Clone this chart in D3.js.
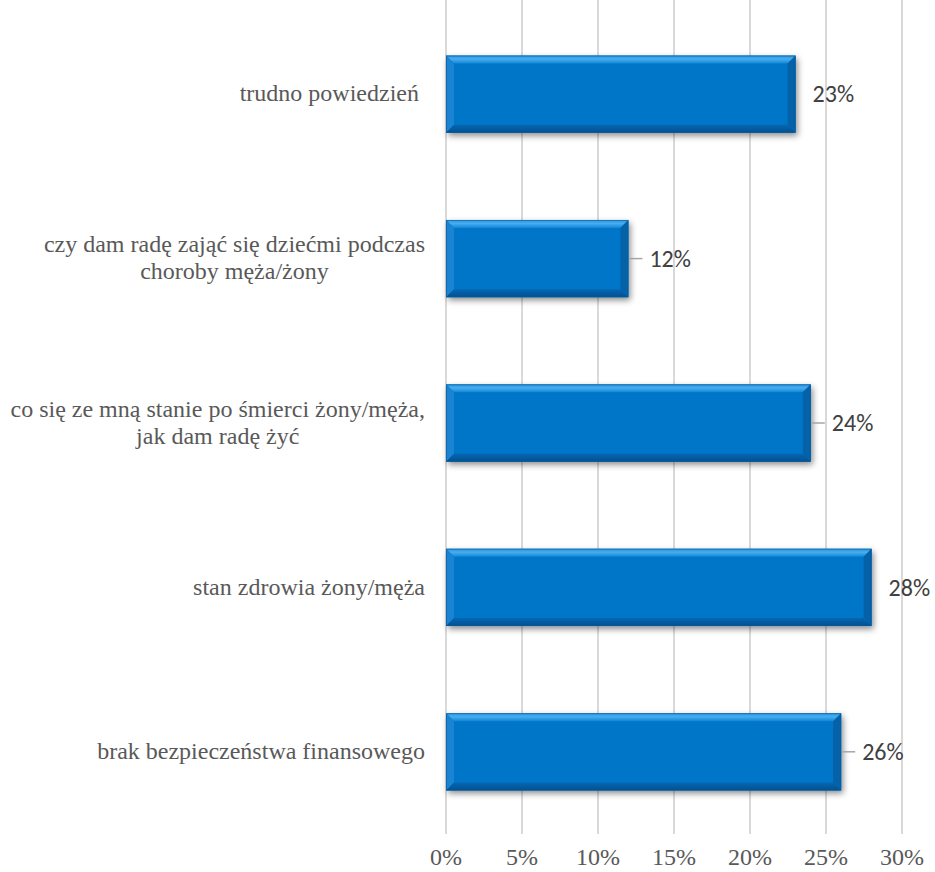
<!DOCTYPE html>
<html>
<head>
<meta charset="utf-8">
<script src="https://cdn.jsdelivr.net/npm/d3@7"></script>
<style>
  html, body { margin: 0; padding: 0; background: #ffffff; }
  svg { display: block; }
</style>
</head>
<body>
<svg id="chart" width="935" height="872"></svg>
<script>
// Categories, top to bottom, each as its wrapped label lines
const categories = [
  ["trudno powiedzień "],
  ["czy dam radę zająć się dziećmi podczas", "choroby męża/żony"],
  ["co się ze mną stanie po śmierci żony/męża,", "jak dam radę żyć"],
  ["stan zdrowia żony/męża"],
  ["brak bezpieczeństwa finansowego"]
];
// Share of answers (%)
const values = [23, 12, 24, 28, 26];
// Whether the data label is joined to its bar by a leader line
const leaderShown = [false, true, true, false, true];
// Axis ticks
const tickValues = [0, 5, 10, 15, 20, 25, 30];
const tickLabels = ["0%", "5%", "10%", "15%", "20%", "25%", "30%"];

const SERIF = '"Liberation Serif", "Times New Roman", serif';
const SANS = '"Carlito", "Calibri", sans-serif';

const svg = d3.select("#chart");
const margin = { left: 446, right: 33, top: 12, bottom: 38 };
const W = 935, H = 872;

const x = d3.scaleLinear().domain([0, 30]).range([margin.left, W - margin.right]);
const y = d3.scaleBand().domain(d3.range(categories.length))
  .range([margin.top, H - margin.bottom]).paddingInner(0.53).paddingOuter(0.265);

const defs = svg.append("defs");
const shadow = defs.append("filter").attr("id", "shadow")
  .attr("x", "-5%").attr("y", "-20%").attr("width", "115%").attr("height", "150%");
shadow.append("feDropShadow").attr("dx", 2).attr("dy", 3).attr("stdDeviation", 3)
  .attr("flood-color", "#000").attr("flood-opacity", 0.45);

const topGrad = defs.append("linearGradient").attr("id", "bevelTop")
  .attr("x1", 0).attr("y1", 0).attr("x2", 0).attr("y2", 1);
topGrad.append("stop").attr("offset", "0%").attr("stop-color", "#2f95de");
topGrad.append("stop").attr("offset", "45%").attr("stop-color", "#45adf0");
topGrad.append("stop").attr("offset", "100%").attr("stop-color", "#1486d6");

const botGrad = defs.append("linearGradient").attr("id", "bevelBottom")
  .attr("x1", 0).attr("y1", 0).attr("x2", 0).attr("y2", 1);
botGrad.append("stop").attr("offset", "0%").attr("stop-color", "#0567b4");
botGrad.append("stop").attr("offset", "100%").attr("stop-color", "#03508e");

// Vertical gridlines
const plotBottom = H - margin.bottom;
svg.append("g").selectAll("line").data(tickValues).join("line")
  .attr("x1", d => x(d)).attr("x2", d => x(d))
  .attr("y1", 0).attr("y2", plotBottom)
  .attr("stroke", "#d9d9d9").attr("stroke-width", 2);

// Bars with bevelled edges
const bevel = 8;
const poly = pts => pts.map(p => p.join(",")).join(" ");
svg.append("g").selectAll("g").data(values).join("g").each(function(v, i) {
  const g = d3.select(this);
  const x0 = x(0), x1 = x(v), y0 = y(i), y1 = y(i) + y.bandwidth();
  const b = Math.min(bevel, (x1 - x0) / 2);
  g.append("rect").attr("x", x0).attr("y", y0).attr("width", x1 - x0).attr("height", y1 - y0)
    .attr("fill", "#0676c8").attr("filter", "url(#shadow)");
  // top, left, right and bottom bevel faces
  g.append("polygon").attr("points", poly([[x0, y0], [x1, y0], [x1 - b, y0 + b], [x0 + b, y0 + b]]))
    .attr("fill", "url(#bevelTop)");
  g.append("polygon").attr("points", poly([[x0, y0], [x0 + b, y0 + b], [x0 + b, y1 - b], [x0, y1]]))
    .attr("fill", "#1a83d2");
  g.append("polygon").attr("points", poly([[x1, y0], [x1, y1], [x1 - b, y1 - b], [x1 - b, y0 + b]]))
    .attr("fill", "#0561a8");
  g.append("polygon").attr("points", poly([[x0, y1], [x0 + b, y1 - b], [x1 - b, y1 - b], [x1, y1]]))
    .attr("fill", "url(#bevelBottom)");
  g.append("rect").attr("x", x0 + 0.5).attr("y", y0 + 0.5).attr("width", x1 - x0 - 1).attr("height", y1 - y0 - 1)
    .attr("fill", "none").attr("stroke", "#0a5a99").attr("stroke-width", 1).attr("stroke-opacity", 0.6);
});

// Data labels with optional leader lines
values.forEach((v, i) => {
  const cy = y(i) + y.bandwidth() / 2;
  const gap = leaderShown[i] ? 21 : 17;
  if (leaderShown[i]) {
    svg.append("line").attr("x1", x(v) + 1).attr("x2", x(v) + 14)
      .attr("y1", cy).attr("y2", cy).attr("stroke", "#a6a6a6").attr("stroke-width", 1.5);
  }
  svg.append("text").attr("x", x(v) + gap).attr("y", cy)
    .attr("dy", "0.34em")
    .style("font-family", SANS).style("font-size", "24px")
    .attr("fill", "#404040").text(v + "%");
});

// Category labels, lines centred, block right-aligned before the axis
const labelRight = 425, lineH = 27;
categories.forEach((lines, i) => {
  const cy = y(i) + y.bandwidth() / 2;
  const t = svg.append("text")
    .style("font-family", SERIF).style("font-size", "24px").style("white-space", "pre")
    .attr("fill", "#595959").attr("text-anchor", "middle");
  const spans = lines.map(l => t.append("tspan").text(l));
  const maxW = d3.max(spans, s => s.node().getComputedTextLength());
  const cx = labelRight - maxW / 2;
  spans.forEach((s, k) => {
    s.attr("x", cx).attr("y", cy + (k - (lines.length - 1) / 2) * lineH).attr("dy", "0.3em");
  });
});

// X axis tick labels
svg.append("g").selectAll("text").data(tickValues).join("text")
  .attr("x", d => x(d)).attr("y", 865)
  .attr("text-anchor", "middle")
  .style("font-family", SERIF).style("font-size", "24px")
  .attr("fill", "#595959")
  .text((d, i) => tickLabels[i]);
</script>
</body>
</html>
